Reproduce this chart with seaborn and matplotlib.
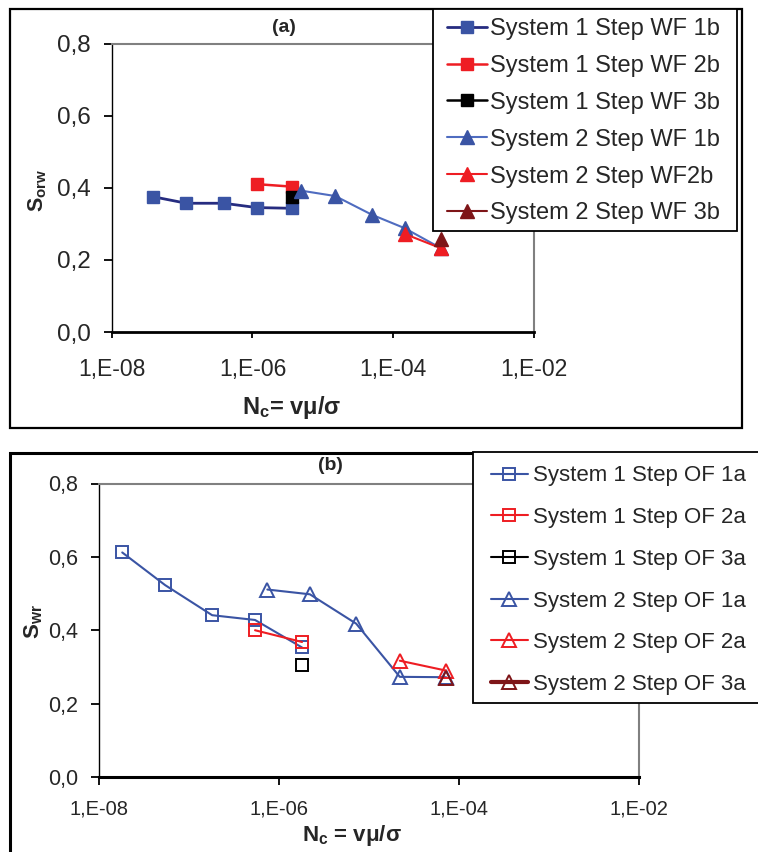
import numpy as np
import pandas as pd
import matplotlib
matplotlib.use("Agg")
import matplotlib.pyplot as plt
import seaborn as sns
from matplotlib.patches import Rectangle
from matplotlib.ticker import FixedLocator, FixedFormatter, NullLocator

# ---------------- data: panel (a) ----------------
a_s1_1b_x = [3.9e-8, 1.15e-7, 3.9e-7, 1.15e-6, 3.7e-6]
a_s1_1b_y = [0.375, 0.357, 0.357, 0.345, 0.343]
a_s1_2b_x = [1.15e-6, 3.7e-6]
a_s1_2b_y = [0.410, 0.403]
a_s1_3b_x = [3.7e-6]
a_s1_3b_y = [0.375]
a_s2_1b_x = [4.9e-6, 1.5e-5, 5.0e-5, 1.45e-4, 4.8e-4]
a_s2_1b_y = [0.392, 0.377, 0.325, 0.288, 0.232]
a_s2_2b_x = [1.45e-4, 4.8e-4]
a_s2_2b_y = [0.272, 0.232]
a_s2_3b_x = [4.8e-4]
a_s2_3b_y = [0.257]
a_labels = ["System 1 Step WF 1b", "System 1 Step WF 2b", "System 1 Step WF 3b",
            "System 2 Step WF 1b", "System 2 Step WF2b", "System 2 Step WF 3b"]

# ---------------- data: panel (b) ----------------
b_s1_1a_x = [1.8e-8, 5.4e-8, 1.8e-7, 5.4e-7, 1.8e-6]
b_s1_1a_y = [0.612, 0.523, 0.441, 0.428, 0.353]
b_s1_2a_x = [5.4e-7, 1.8e-6]
b_s1_2a_y = [0.400, 0.368]
b_s1_3a_x = [1.8e-6]
b_s1_3a_y = [0.305]
b_s2_1a_x = [7.4e-7, 2.2e-6, 7.2e-6, 2.2e-5, 7.2e-5]
b_s2_1a_y = [0.511, 0.498, 0.418, 0.273, 0.272]
b_s2_2a_x = [2.2e-5, 7.2e-5]
b_s2_2a_y = [0.317, 0.290]
b_s2_3a_x = [7.2e-5]
b_s2_3a_y = [0.270]
b_labels = ["System 1 Step OF 1a", "System 1 Step OF 2a", "System 1 Step OF 3a",
            "System 2 Step OF 1a", "System 2 Step OF 2a", "System 2 Step OF 3a"]

# ---------------- axis ticks ----------------
x_ticks = [1e-8, 1e-6, 1e-4, 1e-2]
x_ticklabels = ["1,E-08", "1,E-06", "1,E-04", "1,E-02"]
y_ticks = [0.0, 0.2, 0.4, 0.6, 0.8]
y_ticklabels = ["0,0", "0,2", "0,4", "0,6", "0,8"]

# ---------------- style ----------------
sns.set_theme(style="white")
plt.rcParams["font.family"] = ["Liberation Sans", "DejaVu Sans"]
plt.rcParams["mathtext.fontset"] = "custom"
plt.rcParams["mathtext.rm"] = "Liberation Sans"
plt.rcParams["mathtext.bf"] = "Liberation Sans:bold"
plt.rcParams["mathtext.it"] = "Liberation Sans:italic"

W, H = 758, 852
fig = plt.figure(figsize=(W / 100, H / 100), dpi=100)
fig.patch.set_facecolor("white")

BLUE = "#3A54A4"
NAVY = "#262C80"
LBLUE = "#4F6CC0"
RED = "#EE1D23"
BLACK = "#000000"
DRED = "#7E1518"


def px_axes(x0, y0, x1, y1):
    return fig.add_axes([x0 / W, 1 - y1 / H, (x1 - x0) / W, (y1 - y0) / H])


def style_axes(ax, tick_fs, ytick_fs, xtick_len, bottom_lw, xpad):
    ax.set_xscale("log")
    ax.set_xlim(1e-8, 1e-2)
    ax.set_ylim(0, 0.8)
    ax.xaxis.set_major_locator(FixedLocator(x_ticks))
    ax.xaxis.set_major_formatter(FixedFormatter(x_ticklabels))
    ax.xaxis.set_minor_locator(NullLocator())
    ax.yaxis.set_major_locator(FixedLocator(y_ticks))
    ax.yaxis.set_major_formatter(FixedFormatter(y_ticklabels))
    ax.set_facecolor("white")
    ax.grid(False)
    for s in ("top", "right"):
        ax.spines[s].set_color("#808080")
        ax.spines[s].set_linewidth(1.5)
    ax.spines["left"].set_color("black")
    ax.spines["left"].set_linewidth(1.0)
    ax.spines["bottom"].set_color("black")
    ax.spines["bottom"].set_linewidth(bottom_lw)
    ax.tick_params(axis="x", which="major", direction="out", length=xtick_len, width=1.3,
                   color="black", labelsize=tick_fs, pad=xpad, bottom=True, top=False)
    ax.tick_params(axis="y", which="major", direction="out", length=6, width=1.3,
                   color="black", labelsize=ytick_fs, pad=9, left=True, right=False)


def series(ax, xs, ys, marker, ms, mfc, mec, lc, lw, label, mew=1.0):
    sns.lineplot(x=xs, y=ys, ax=ax, color=lc, linewidth=lw, marker=marker,
                 markersize=ms, markerfacecolor=mfc, markeredgecolor=mec,
                 markeredgewidth=mew, estimator=None, sort=False, label=label,
                 legend=False)


# ---------------- panel frames ----------------
fig.add_artist(Rectangle((10 / W, 1 - 428 / H), (742 - 10) / W, (428 - 9) / H,
                         transform=fig.transFigure, fill=False, edgecolor="black", linewidth=1.6))
fig.add_artist(Rectangle((10 / W, 1 - 860 / H), (770 - 10) / W, (860 - 453) / H,
                         transform=fig.transFigure, fill=False, edgecolor="black", linewidth=2.2))

# ---------------- panel (a) ----------------
ax1 = px_axes(111.7, 43.5, 534, 332)
style_axes(ax1, 16.5, 17.5, 4.5, 2.0, 14)
series(ax1, a_s1_1b_x, a_s1_1b_y, "s", 9.3, BLUE, BLUE, NAVY, 2.0, a_labels[0])
series(ax1, a_s1_2b_x, a_s1_2b_y, "s", 9.3, RED, RED, RED, 1.8, a_labels[1])
series(ax1, a_s1_3b_x, a_s1_3b_y, "s", 9.3, BLACK, BLACK, BLACK, 1.8, a_labels[2])
series(ax1, a_s2_1b_x, a_s2_1b_y, "^", 9.5, BLUE, BLUE, LBLUE, 1.5, a_labels[3])
series(ax1, a_s2_2b_x, a_s2_2b_y, "^", 9.5, RED, RED, RED, 1.5, a_labels[4])
series(ax1, a_s2_3b_x, a_s2_3b_y, "^", 9.5, DRED, DRED, DRED, 1.5, a_labels[5])

ax1.set_ylabel(r"S$_{\mathbf{orw}}$", fontsize=15.5, fontweight="bold")
ax1.yaxis.set_label_coords((38 - 111.7) / 422.3, (332 - 190) / 288.5)
ax1.yaxis.label.set_va("center")
ax1.set_xlabel(r"N$_{\mathbf{c}}$= v$\mathbf{\mu}$/$\mathbf{\sigma}$", fontsize=17, fontweight="bold")
ax1.xaxis.set_label_coords((292 - 111.7) / 422.3, (332 - 407) / 288.5)
ax1.xaxis.label.set_va("center")
ax1.text((284 - 111.7) / 422.3, (332 - 27.5) / 288.5, "(a)", transform=ax1.transAxes,
         ha="center", va="center", fontsize=14, fontweight="bold")

fig.add_artist(Rectangle((432.7 / W, 1 - 230.7 / H), (736.7 - 432.7) / W, (230.7 - 9) / H,
                         transform=fig.transFigure, facecolor="white", edgecolor="black",
                         linewidth=1.3, zorder=5))
h1, l1 = ax1.get_legend_handles_labels()
leg1 = fig.legend(h1, l1, loc="upper left", bbox_to_anchor=(446.7 / W, 1 - 18 / H),
                  bbox_transform=fig.transFigure, frameon=False, fontsize=17,
                  handlelength=1.7, handletextpad=0.15, labelspacing=0.63,
                  borderpad=0, borderaxespad=0, numpoints=1)
leg1.set_zorder(6)

# ---------------- panel (b) ----------------
ax2 = px_axes(99.3, 483.5, 638.7, 777)
style_axes(ax2, 14.5, 15.5, 6, 2.2, 10)
series(ax2, b_s1_1a_x, b_s1_1a_y, "s", 8.4, "none", BLUE, BLUE, 1.5, b_labels[0], 1.4)
series(ax2, b_s1_2a_x, b_s1_2a_y, "s", 8.4, "none", RED, RED, 1.5, b_labels[1], 1.4)
series(ax2, b_s1_3a_x, b_s1_3a_y, "s", 8.4, "none", BLACK, BLACK, 1.5, b_labels[2], 1.4)
series(ax2, b_s2_1a_x, b_s2_1a_y, "^", 9.5, "none", BLUE, BLUE, 1.5, b_labels[3], 1.4)
series(ax2, b_s2_2a_x, b_s2_2a_y, "^", 9.5, "none", RED, RED, 1.5, b_labels[4], 1.4)
series(ax2, b_s2_3a_x, b_s2_3a_y, "^", 9.5, "none", DRED, DRED, 3.0, b_labels[5], 1.4)

ax2.set_ylabel(r"S$_{\mathbf{wr}}$", fontsize=16, fontweight="bold")
ax2.yaxis.set_label_coords((34 - 99.3) / 539.4, (777 - 622) / 293.5)
ax2.yaxis.label.set_va("center")
ax2.set_xlabel(r"N$_{\mathbf{c}}$ = v$\mathbf{\mu}$/$\mathbf{\sigma}$", fontsize=16, fontweight="bold")
ax2.xaxis.set_label_coords((352 - 99.3) / 539.4, (777 - 835) / 293.5)
ax2.xaxis.label.set_va("center")
ax2.text((330 - 99.3) / 539.4, (777 - 466) / 293.5, "(b)", transform=ax2.transAxes,
         ha="center", va="center", fontsize=14, fontweight="bold")

fig.add_artist(Rectangle((472.7 / W, 1 - 702.5 / H), (770 - 472.7) / W, (702.5 - 452) / H,
                         transform=fig.transFigure, facecolor="white", edgecolor="black",
                         linewidth=1.3, zorder=5))
h2, l2 = ax2.get_legend_handles_labels()
leg2 = fig.legend(h2, l2, loc="upper left", bbox_to_anchor=(490.8 / W, 1 - 465.5 / H),
                  bbox_transform=fig.transFigure, frameon=False, fontsize=16,
                  handlelength=1.66, handletextpad=0.24, labelspacing=0.93,
                  borderpad=0, borderaxespad=0, numpoints=1)
leg2.set_zorder(6)

fig.savefig("out.png", dpi=100, facecolor="white")
